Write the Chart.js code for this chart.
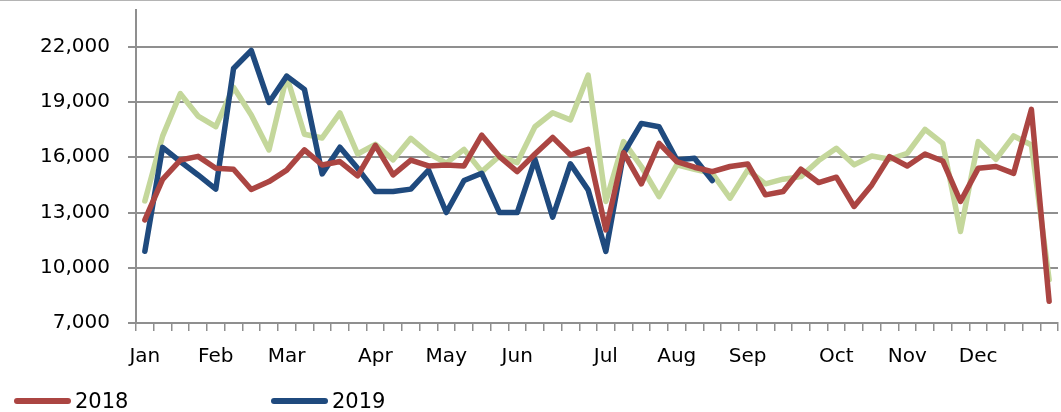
<!DOCTYPE html>
<html><head><meta charset="utf-8">
<script src="https://cdn.jsdelivr.net/npm/chart.js@4.4.1/dist/chart.umd.min.js"></script>
<style>
html,body{margin:0;padding:0;background:#fff;}
#wrap{position:relative;width:1061px;height:412px;overflow:hidden;}
#c{position:absolute;left:0;top:0;}
#topline{position:absolute;left:0;top:0;width:1061px;height:1px;background:#b4b4b4;}
.swatch{position:absolute;height:6px;border-radius:3px;}
.lbl{position:absolute;font-family:'DejaVu Sans',sans-serif;font-size:21px;line-height:24px;color:#000;white-space:nowrap;}
</style></head>
<body><div id="wrap"><canvas id="c" width="1061" height="412"></canvas><div id="topline"></div><div id="legend"></div></div>
<script>
const categories = ['Jan','','','','Feb','','','','Mar','','','','','Apr','','','','May','','','','Jun','','','','','Jul','','','','Aug','','','','Sep','','','','','Oct','','','','Nov','','','','Dec','','','',''];
const series2018 = [12600,14800,15850,16050,15400,15350,14250,14680,15300,16400,15580,15770,14990,16650,15050,15850,15530,15580,15530,17200,16040,15220,16180,17080,16130,16430,12060,16250,14560,16760,15770,15460,15220,15500,15640,13960,14140,15350,14630,14920,13330,14500,16040,15530,16180,15800,13600,15400,15500,15130,18600,8180];
const series2019 = [10900,16540,15770,15040,14270,20820,21800,18980,20410,19690,15100,16550,15400,14140,14140,14270,15310,13000,14740,15130,13000,13000,15890,12750,15640,14230,10890,16220,17840,17660,15860,15950,14740,null,null,null,null,null,null,null,null,null,null,null,null,null,null,null,null,null,null,null];
const series2017 = [13630,17150,19460,18240,17660,19800,18300,16400,20400,17250,17050,18410,16180,16700,15860,17030,16220,15680,16430,15220,16070,15710,17660,18420,18030,20460,13600,16850,15500,13870,15590,15350,15130,13780,15310,14560,14810,14950,15820,16490,15590,16070,15890,16220,17520,16760,11970,16850,15890,17160,16670,9350];
const yTickValues = [7000,10000,13000,16000,19000,22000];
const seriesNames = ['2018','2019','2017'];
const seriesColors = ['#AB4542','#1F4A7E','#C4D79B'];

const gridColor = '#8f8f8f';
const font = {family:'DejaVu Sans', size:20};

const chart = new Chart(document.getElementById('c'), {
  type:'line',
  data:{
    labels: categories,
    datasets:[
      {label:seriesNames[0], data:series2018, borderColor:seriesColors[0], backgroundColor:seriesColors[0]},
      {label:seriesNames[1], data:series2019, borderColor:seriesColors[1], backgroundColor:seriesColors[1]},
      {label:seriesNames[2], data:series2017, borderColor:seriesColors[2], backgroundColor:seriesColors[2], showInLegend:false}
    ].map(d=>Object.assign(d,{borderWidth:5.5, pointRadius:0, tension:0, borderJoinStyle:'round', borderCapStyle:'round', fill:false, spanGaps:false}))
  },
  options:{
    responsive:false, animation:false, devicePixelRatio:1,
    layout:{padding:{top:10,right:3,left:0,bottom:0}},
    plugins:{legend:{display:false}, tooltip:{enabled:false}},
    scales:{
      x:{
        offset:true,
        afterFit: s=>{ s.height = 89; s.paddingLeft = 0; s.paddingRight = 0; },
        ticks:{autoSkip:false, maxRotation:0, minRotation:0, font:font, color:'#000', padding:14},
        grid:{offset:true, drawOnChartArea:false, color:gridColor, lineWidth:1.5, tickLength:8},
        border:{display:true, color:gridColor, width:2}
      },
      y:{
        min:7000, max:24000,
        afterFit: s=>{ s.width = 136; s.paddingTop = 0; s.paddingBottom = 0; },
        afterBuildTicks: s=>{ s.ticks = yTickValues.map(v=>({value:v})); },
        ticks:{font:font, color:'#000', padding:18, callback:v=>Number(v).toLocaleString('en-US')},
        grid:{color:gridColor, lineWidth:2, tickLength:8},
        border:{display:true, color:gridColor, width:2}
      }
    }
  }
});

// HTML legend built from the datasets (third series is not shown in the reference legend)
const legend = document.getElementById('legend');
const legendPos = [{sw:14, tx:75},{sw:271, tx:332}];
chart.data.datasets.forEach((d,i)=>{
  if (d.showInLegend === false) return;
  const p = legendPos[i];
  const sw = document.createElement('div');
  sw.className='swatch';
  sw.style.left=p.sw+'px'; sw.style.top='398px'; sw.style.width='57px'; sw.style.background=d.borderColor;
  const t = document.createElement('div');
  t.className='lbl'; t.style.left=p.tx+'px'; t.style.top='389px'; t.textContent=d.label;
  legend.appendChild(sw); legend.appendChild(t);
});
</script>
</body></html>
